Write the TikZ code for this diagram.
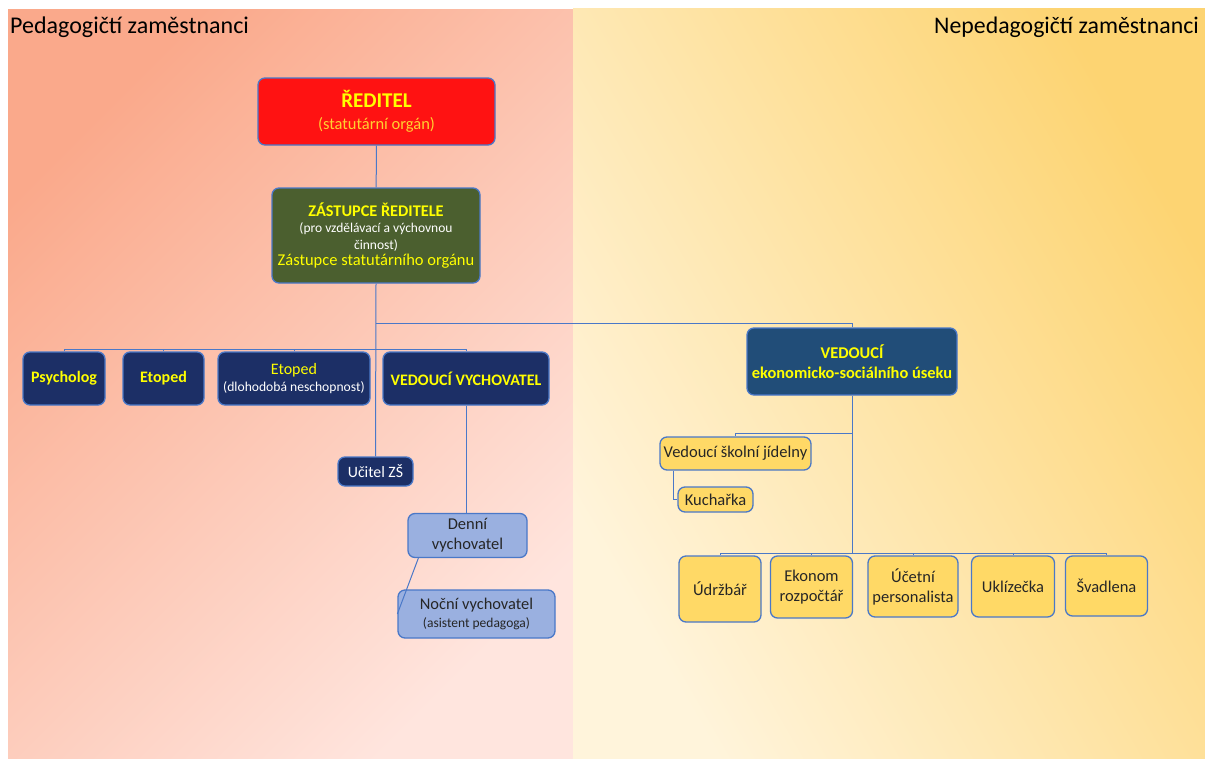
\documentclass[tikz,border=0pt]{standalone}
\usepackage{fontspec}
\setmainfont{Carlito}
\definecolor{linka}{HTML}{4A78C8}
\definecolor{cervena}{HTML}{FF1212}
\definecolor{zelena}{HTML}{4B5F2F}
\definecolor{tmodra}{HTML}{1C2F66}
\definecolor{modra}{HTML}{214D78}
\definecolor{svmodra}{HTML}{9AB0E0}
\definecolor{zluta}{HTML}{FFD966}
\definecolor{zlutytext}{HTML}{FFFF00}
\definecolor{oranzovytext}{HTML}{FFD030}
\definecolor{losos}{HTML}{FAA98B}
\definecolor{lososbily}{HTML}{FFE5DE}
\definecolor{piskova}{HTML}{FDD472}
\definecolor{piskovabila}{HTML}{FFF4DB}
\begin{document}
\begin{tikzpicture}[x=1pt,y=-1pt,
	box/.style={draw=linka,line width=1.3pt,rounded corners=7pt,align=center,inner sep=1pt},
	tmavy/.style={box,fill=tmodra,text=zlutytext,font=\fontsize{16}{17}\selectfont\bfseries},
	svetly/.style={box,fill=svmodra,text=black!85,font=\fontsize{16.5}{20}\selectfont},
	zluty/.style={box,fill=zluta,text=black!85,font=\fontsize{16.5}{20}\selectfont},
	spoj/.style={draw=linka,line width=1pt}]
		\def\radA{378.5}
		\def\radB{589}
		\useasboundingbox (0,0) rectangle (1205,758);
		\shade[top color=losos,bottom color=lososbily,shading angle=45] (8,9) rectangle (573,758); % pedagogicka cast
		\shade[top color=piskova,bottom color=piskovabila,shading angle=-60] (573,8) rectangle (1205,758); % nepedagogicka cast
		\node[anchor=base west,inner sep=0,font=\fontsize{24}{28}\selectfont] (pedag) at (10,33) {Pedagogičtí zaměstnanci};
		\node[anchor=base east,inner sep=0,font=\fontsize{23.8}{28}\selectfont] (nepedag) at (1199,33) {Nepedagogičtí zaměstnanci};
		% vedeni
		\node[box,fill=cervena,text=zlutytext,minimum width=237,minimum height=67,font=\fontsize{16.5}{22}\selectfont] (reditel) at (376.5,111.5) {{\fontsize{21}{24}\selectfont\bfseries ŘEDITEL}\\{\color{oranzovytext}(statutární orgán)}};
		\node[box,fill=zelena,text=zlutytext,minimum width=208,minimum height=95,font=\fontsize{13.5}{16.5}\selectfont] (zastupce) at (376,235.5) {{\fontsize{16.3}{17}\selectfont\bfseries ZÁSTUPCE ŘEDITELE}\\{\color{white}(pro vzdělávací a výchovnou}\\{\color{white}činnost)}\\{\fontsize{16.5}{17}\selectfont Zástupce statutárního orgánu}};
		% pedagogove
		\node[tmavy,minimum width=82,minimum height=53] (psych) at (64,\radA) {Psycholog};
		\node[tmavy,minimum width=81,minimum height=53] (etoped) at (163.5,\radA) {Etoped};
		\node[tmavy,minimum width=152,minimum height=53,font=\fontsize{16}{17.5}\selectfont] (etopedd) at (294,\radA) {Etoped\\{\fontsize{13.6}{15}\selectfont\color{white}(dlohodobá neschopnost)}};
		\node[tmavy,minimum width=166,minimum height=53] (vedvych) at (466,\radA) {VEDOUCÍ VYCHOVATEL};
		\node[tmavy,text=white,minimum width=75,minimum height=29,font=\fontsize{15.8}{18}\selectfont] (ucitel) at (375.5,471.5) {Učitel ZŠ};
		\node[svetly,minimum width=119,minimum height=44] (denni) at (467.5,535.5) {Denní\\vychovatel};
		\node[svetly,minimum width=157,minimum height=48,font=\fontsize{16.4}{18}\selectfont] (nocni) at (476.5,614) {Noční vychovatel\\{\fontsize{13.5}{15}\selectfont(asistent pedagoga)}};
		% ekonomicky usek
		\node[box,fill=modra,text=zlutytext,minimum width=210,minimum height=67,font=\fontsize{16.4}{20}\selectfont\bfseries] (vedeko) at (852,361.5) {VEDOUCÍ\\ekonomicko-sociálního úseku};
		\node[zluty,minimum width=151,minimum height=33] (jidelna) at (735.5,453.5) {Vedoucí školní jídelny};
		\node[zluty,minimum width=75,minimum height=25] (kucharka) at (715.5,499.5) {Kuchařka};
		\node[zluty,minimum width=82,minimum height=66] (udrzbar) at (720,\radB) {Údržbář};
		\node[zluty,minimum width=82,minimum height=62] (ekonom) at (811.5,587) {Ekonom\\rozpočtář};
		\node[zluty,minimum width=90,minimum height=61] (ucetni) at (913,586.5) {Účetní\\personalista};
		\node[zluty,minimum width=83,minimum height=61] (uklizecka) at (1013,586.5) {Uklízečka};
		\node[zluty,minimum width=82,minimum height=60] (svadlena) at (1106.5,586) {Švadlena};
		% spojnice
		\coordinate (rozcesti) at (zastupce.south |- 0,323);
		\coordinate (lista) at (zastupce.south |- 0,349);
		\coordinate (odbocka) at (vedeko.south |- 0,433);
		\coordinate (lista2) at (vedeko.south |- 0,553);
		\draw[spoj] (reditel) -- (zastupce);
		\draw[spoj] (zastupce.south) -- (ucitel.north);
		\draw[spoj] (rozcesti) -| (vedeko.north);
		\foreach \n in {psych,etoped,etopedd,vedvych}
			\draw[spoj] (lista) -| (\n.north);
		\draw[spoj] (vedvych.south) -- (vedvych.south |- denni.north);
		\draw[spoj] ([xshift=11pt]denni.south west) -- (nocni.west); % sikma spojnice
		\draw[spoj] (vedeko.south) -- (lista2);
		\draw[spoj] (odbocka) -| (jidelna.north);
		\draw[spoj] ([xshift=14.5pt]jidelna.south west) |- (kucharka.west);
		\foreach \n in {udrzbar,ekonom,ucetni,uklizecka,svadlena}
			\draw[spoj] (lista2) -| (\n.north);
\end{tikzpicture}
\end{document}
